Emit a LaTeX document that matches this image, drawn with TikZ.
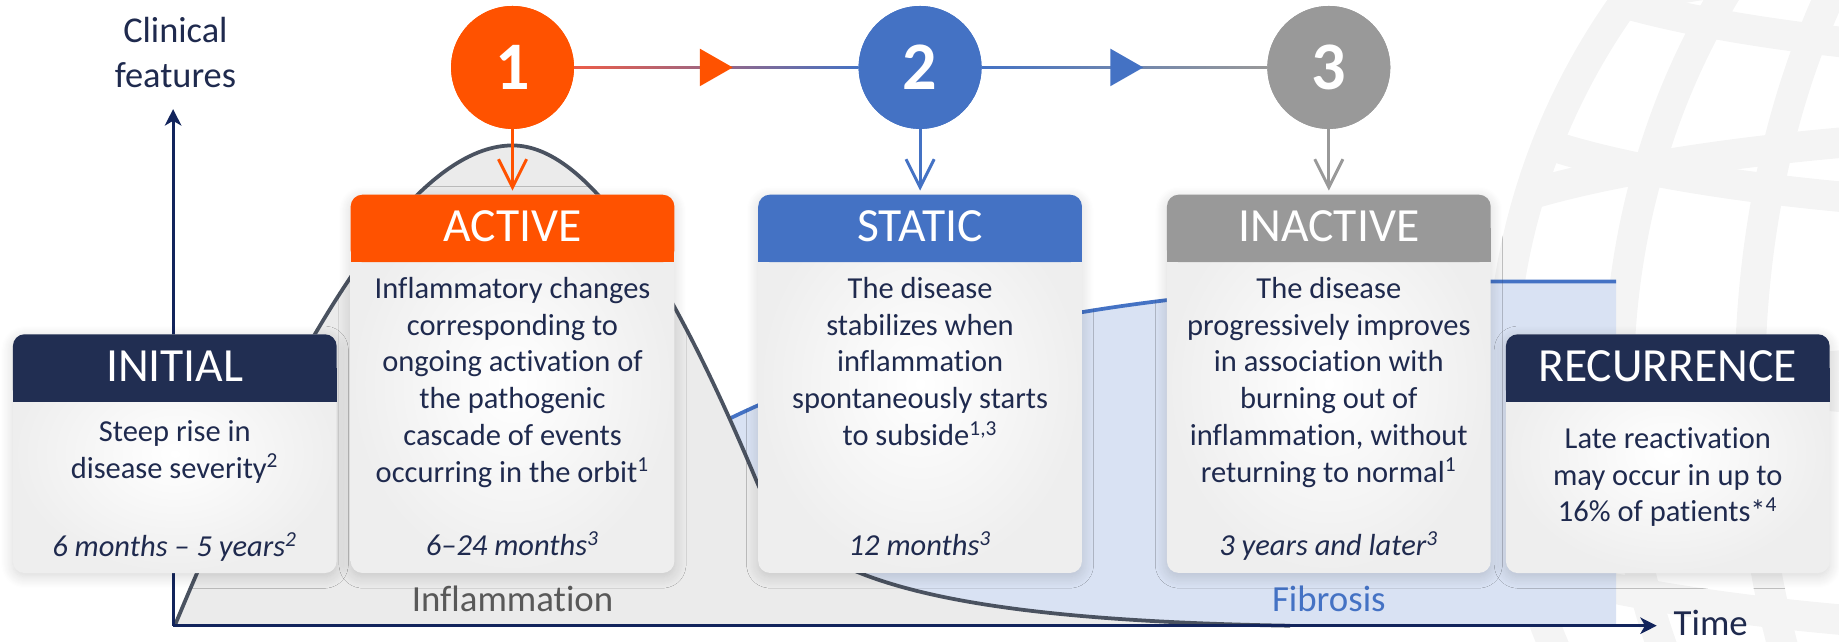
\documentclass[tikz,border=0pt]{standalone}
\usepackage{fontspec}
\setmainfont{Carlito}[Ligatures=NoCommon]
\usetikzlibrary{arrows.meta,calc,shadows.blur}
\definecolor{navy}{RGB}{33,46,82}
\definecolor{txt}{RGB}{31,42,78}
\definecolor{axisc}{RGB}{18,36,92}
\definecolor{orng}{RGB}{255,82,0}
\definecolor{blu}{RGB}{68,114,196}
\definecolor{gry}{RGB}{153,153,153}
\definecolor{inflfill}{RGB}{235,235,235}
\definecolor{inflline}{RGB}{74,82,96}
\definecolor{infltxt}{RGB}{89,89,89}
\definecolor{fibfill}{RGB}{217,226,243}
\definecolor{boxedge}{RGB}{238,238,238}
\definecolor{globec}{RGB}{244,244,244}
\definecolor{redl}{RGB}{236,92,72}
\definecolor{purp}{RGB}{176,100,150}
\begin{document}
\begin{tikzpicture}[x=0.5pt,y=-0.5pt,
  box/.style={rounded corners=5pt, inner color=white, outer color=boxedge,
    minimum width=138pt, inner sep=0pt, outer sep=0pt, anchor=north west,
    blur shadow={shadow xshift=0pt, shadow yshift=-1.5pt, shadow blur radius=5pt,
      shadow blur steps=12, shadow opacity=16}},
  hdr/.style={rounded corners=5pt, minimum width=138pt, minimum height=28.75pt,
    inner sep=0pt, outer sep=0pt, anchor=north},
  htxt/.style={anchor=base, inner sep=0pt, text=white, font=\fontsize{20.3}{24}\selectfont},
  body/.style={anchor=base, align=center, inner sep=0pt, text=txt, font=\fontsize{13}{15.65}\selectfont},
  dur/.style={anchor=base, inner sep=0pt, text=txt, font=\fontsize{13}{15.65}\selectfont\itshape},
  num/.style={circle, minimum size=52.4pt, inner sep=0pt, outer sep=0pt, text=white,
    font=\fontsize{29}{30}\selectfont\bfseries},
  varrow/.style={line width=1.25pt, -{Straight Barb[length=12pt,width=12pt]}, shorten >=1.75pt},
  axisarrow/.style={draw=axisc, line width=1.3pt, -{Stealth[length=7pt,width=7pt,inset=2pt]}},
  lbl/.style={anchor=base, inner sep=0pt, font=\fontsize{15.7}{19}\selectfont},
  globe/.style={draw=globec, line width=13pt}
]
\useasboundingbox (0,0) rectangle (1568,547);

% faint globe watermark
\begin{scope}
  \clip (0,0) rectangle (1568,547);
  \draw[globe] (1845,330) circle[radius=565];
  \begin{scope}
    \clip (1845,330) circle[radius=565];
    \draw[globe] (1845,330) ellipse[x radius=465, y radius=565];
    \draw[globe] (1845,330) ellipse[x radius=353, y radius=565];
    \draw[globe] (1845,-60) ellipse[x radius=560, y radius=110];
    \draw[globe] (1845,70) ellipse[x radius=600, y radius=110];
    \draw[globe] (1845,230) ellipse[x radius=640, y radius=120];
    \draw[globe] (1845,420) ellipse[x radius=640, y radius=120];
  \end{scope}
\end{scope}

% axes coordinates
\coordinate (O) at (147.6,533.5);
\coordinate (ytip) at (147.6,93);
\coordinate (xtip) at (1412.6,533.5);

% fibrosis area
\fill[fibfill] (600,533.5) -- (600,368) .. controls (750,290) and (950,242) .. (1272,240)
  -- (1378,240) -- (1378,533.5) -- cycle;
\draw[blu, line width=1.6pt] (600,368) .. controls (750,290) and (950,242) .. (1272,240) -- (1378,240);

% inflammation area
\fill[inflfill] (149,533.5) .. controls (250,290) and (350,124) .. (437,124)
  .. controls (500,124) and (570,230) .. (645,410)
  .. controls (675,482) and (760,528) .. (1100,533.5) -- cycle;
\draw[inflline, line width=1.6pt] (149,533.5) .. controls (250,290) and (350,124) .. (437,124)
  .. controls (500,124) and (570,230) .. (645,410)
  .. controls (675,482) and (760,528) .. (1100,533.5);

\node[lbl, text=infltxt] (inflLbl) at (437,521.5) {Inflammation};
\node[lbl, text=blu] (fibLbl) at (1133,521.5) {Fibrosis};

% axes
\draw[axisarrow] (O) -- (ytip);
\draw[axisarrow] (O) -- (xtip);
\node[lbl, text=txt, align=center, font=\fontsize{15.5}{19}\selectfont] (yLbl) at (149.6,74.5) {Clinical\\features};
\node[lbl, text=txt, anchor=base west] (xLbl) at (1426.6,542) {Time};

% boxes
\node[box, minimum height=101.8pt] (bInit) at (11,285) {};
\node[hdr, fill=navy] (hInit) at (bInit.north) {};
\fill[navy] (hInit.west) rectangle (hInit.south east);
\node[htxt] (tInit) at ($(hInit.north)+(0,40)$) {INITIAL};

\node[box, minimum height=161.25pt] (bAct) at (299,166) {};
\node[hdr, fill=orng] (hAct) at (bAct.north) {};
\fill[orng] (hAct.west) rectangle (hAct.south east);
\node[htxt] (tAct) at ($(hAct.north)+(0,40)$) {ACTIVE};

\node[box, minimum height=161.25pt] (bSta) at (646.5,166) {};
\node[hdr, fill=blu] (hSta) at (bSta.north) {};
\fill[blu] (hSta.west) rectangle (hSta.south east);
\node[htxt] (tSta) at ($(hSta.north)+(0,40)$) {STATIC};

\node[box, minimum height=161.25pt] (bIna) at (995,166) {};
\node[hdr, fill=gry] (hIna) at (bIna.north) {};
\fill[gry] (hIna.west) rectangle (hIna.south east);
\node[htxt] (tIna) at ($(hIna.north)+(0,40)$) {INACTIVE};

\node[box, minimum height=101.8pt] (bRec) at (1284,285) {};
\node[hdr, fill=navy] (hRec) at (bRec.north) {};
\fill[navy] (hRec.west) rectangle (hRec.south east);
\node[htxt] (tRec) at ($(hRec.north)+(0,40)$) {RECURRENCE};

% box texts (anchor base = baseline of the last line)
\node[body] (xInit) at (149,407.7) {Steep rise in\\disease severity\textsuperscript{2}};
\node[dur] (dInit) at (149,474.6) {6 months – 5 years\textsuperscript{2}};

\node[body] (xAct) at (437,411) {Inflammatory changes\\corresponding to\\ongoing activation of\\the pathogenic\\cascade of events\\occurring in the orbit\textsuperscript{1}};
\node[dur] (dAct) at (437,474) {6–24 months\textsuperscript{3}};

\node[body] (xSta) at (784.5,379.7) {The disease\\stabilizes when\\inflammation\\spontaneously starts\\to subside\textsuperscript{1,3}};
\node[dur] (dSta) at (784.5,473.5) {12 months\textsuperscript{3}};

\node[body] (xIna) at (1133,411) {The disease\\progressively improves\\in association with\\burning out of\\inflammation, without\\returning to normal\textsuperscript{1}};
\node[dur] (dIna) at (1133,473.5) {3 years and later\textsuperscript{3}};

\node[body] (xRec) at (1422,444.9) {Late reactivation\\may occur in up to\\16\% of patients*\textsuperscript{4}};

% numbered circles
\node[num, fill=orng] (c1) at (437,57.5) {1};
\node[num, fill=blu] (c2) at (784.5,57.5) {2};
\node[num, fill=gry] (c3) at (1133,57.5) {3};

% horizontal connectors
\shade[left color=redl, middle color=purp, right color=blu]
  ($(c1.east)+(0,-1.2)$) rectangle ($(c2.west)+(0,1.2)$);
\shade[left color=blu, middle color=blu!55!gry, right color=gry]
  ($(c2.east)+(0,-1.2)$) rectangle ($(c3.west)+(0,1.2)$);
\coordinate (m12) at ($(c1.east)!0.5!(c2.west)$);
\coordinate (m23) at ($(c2.east)!0.5!(c3.west)$);
\fill[orng] ($(m12)+(-14,-16)$) -- ($(m12)+(14,0)$) -- ($(m12)+(-14,16)$) -- cycle;
\fill[blu] ($(m23)+(-12,-16)$) -- ($(m23)+(16,0)$) -- ($(m23)+(-12,16)$) -- cycle;
% redraw circles over line ends
\node[num, fill=orng] at (c1) {1};
\node[num, fill=blu] at (c2) {2};
\node[num, fill=gry] at (c3) {3};

% vertical arrows
\draw[varrow, orng] (c1.south) -- (hAct.north);
\draw[varrow, blu] (c2.south) -- (hSta.north);
\draw[varrow, gry] (c3.south) -- (hIna.north);
\end{tikzpicture}
\end{document}
